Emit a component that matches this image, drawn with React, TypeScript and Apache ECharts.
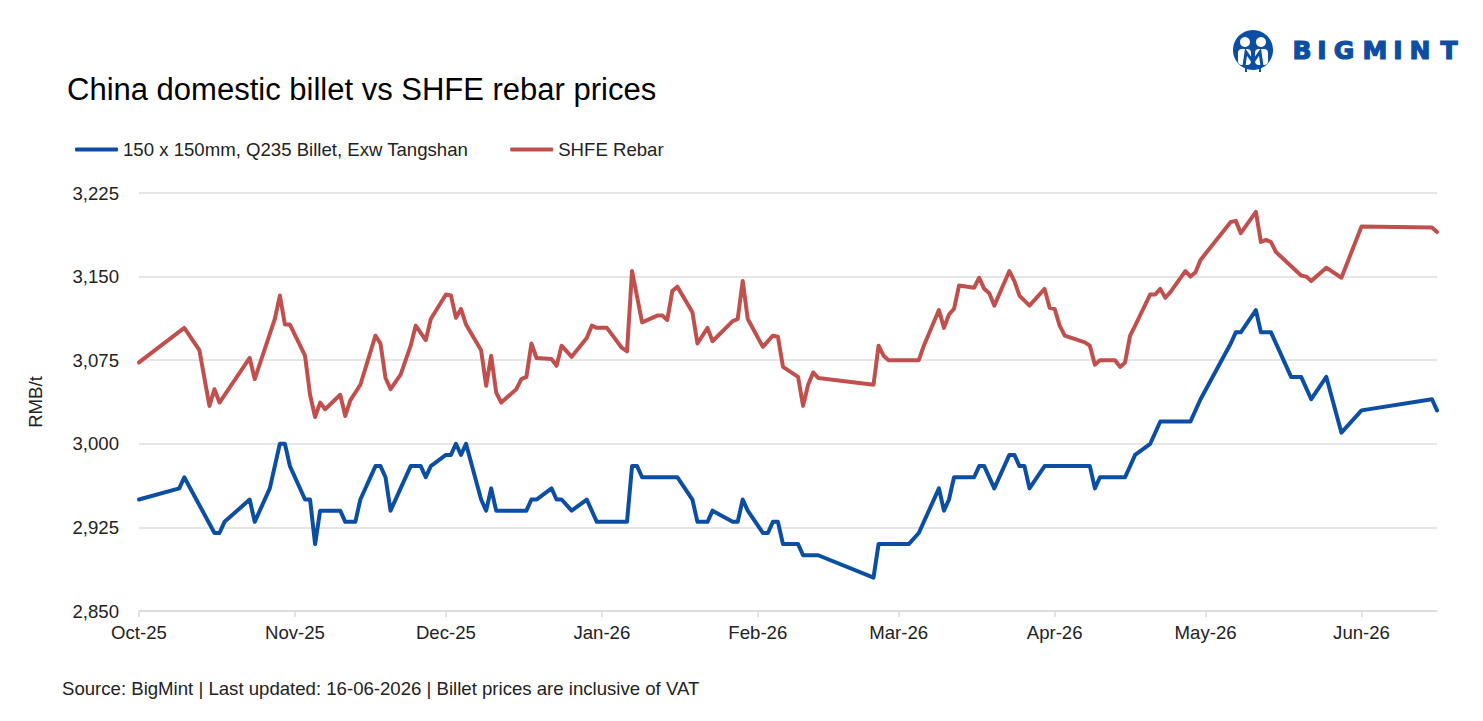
import { useEffect, useRef } from "react";
import * as echarts from "echarts";

const MONTHS = ["Jan", "Feb", "Mar", "Apr", "May", "Jun", "Jul", "Aug", "Sep", "Oct", "Nov", "Dec"];

const rebarDates = [
  "2025-10-01", "2025-10-10", "2025-10-13", "2025-10-15", "2025-10-16", "2025-10-17", "2025-10-23", "2025-10-24",
  "2025-10-28", "2025-10-29", "2025-10-30", "2025-10-31", "2025-11-03", "2025-11-04", "2025-11-05", "2025-11-06",
  "2025-11-07", "2025-11-10", "2025-11-11", "2025-11-12", "2025-11-14", "2025-11-17", "2025-11-18", "2025-11-19",
  "2025-11-20", "2025-11-22", "2025-11-24", "2025-11-25", "2025-11-27", "2025-11-28", "2025-12-01", "2025-12-02",
  "2025-12-03", "2025-12-04", "2025-12-05", "2025-12-08", "2025-12-09", "2025-12-10", "2025-12-11", "2025-12-12",
  "2025-12-15", "2025-12-16", "2025-12-17", "2025-12-18", "2025-12-19", "2025-12-22", "2025-12-23", "2025-12-24",
  "2025-12-26", "2025-12-29", "2025-12-30", "2025-12-31", "2026-01-02", "2026-01-05", "2026-01-06", "2026-01-07",
  "2026-01-09", "2026-01-12", "2026-01-13", "2026-01-14", "2026-01-15", "2026-01-16", "2026-01-19", "2026-01-20",
  "2026-01-22", "2026-01-23", "2026-01-27", "2026-01-28", "2026-01-29", "2026-01-30", "2026-02-02", "2026-02-04",
  "2026-02-05", "2026-02-06", "2026-02-09", "2026-02-10", "2026-02-11", "2026-02-12", "2026-02-13", "2026-02-24",
  "2026-02-25", "2026-02-26", "2026-02-27", "2026-03-05", "2026-03-06", "2026-03-09", "2026-03-10", "2026-03-11",
  "2026-03-12", "2026-03-13", "2026-03-16", "2026-03-17", "2026-03-18", "2026-03-19", "2026-03-20", "2026-03-23",
  "2026-03-24", "2026-03-25", "2026-03-27", "2026-03-30", "2026-03-31", "2026-04-01", "2026-04-02", "2026-04-03",
  "2026-04-07", "2026-04-08", "2026-04-09", "2026-04-10", "2026-04-13", "2026-04-14", "2026-04-15", "2026-04-16",
  "2026-04-17", "2026-04-20", "2026-04-21", "2026-04-22", "2026-04-23", "2026-04-24", "2026-04-27", "2026-04-28",
  "2026-04-29", "2026-04-30", "2026-05-06", "2026-05-07", "2026-05-08", "2026-05-11", "2026-05-12", "2026-05-13",
  "2026-05-14", "2026-05-15", "2026-05-20", "2026-05-21", "2026-05-22", "2026-05-25", "2026-05-28", "2026-06-01",
  "2026-06-15", "2026-06-16",
];

const rebarPrices = [
  3073, 3104, 3084, 3034, 3049, 3037, 3077, 3058,
  3112, 3133, 3107, 3107, 3079, 3044, 3024, 3037,
  3031, 3044, 3025, 3039, 3053, 3097, 3090, 3059,
  3049, 3062, 3088, 3106, 3093, 3112, 3134, 3133,
  3113, 3121, 3107, 3084, 3052, 3079, 3046, 3037,
  3049, 3058, 3060, 3090, 3077, 3076, 3070, 3088,
  3078, 3095, 3106, 3104, 3104, 3086, 3083, 3155,
  3109, 3115, 3115, 3111, 3137, 3141, 3118, 3090,
  3104, 3092, 3110, 3112, 3146, 3112, 3087, 3097,
  3096, 3069, 3060, 3034, 3053, 3064, 3059, 3053,
  3088, 3079, 3075, 3075, 3088, 3120, 3104, 3116,
  3121, 3142, 3140, 3149, 3139, 3135, 3124, 3155,
  3146, 3133, 3124, 3139, 3122, 3121, 3106, 3097,
  3091, 3088, 3071, 3075, 3075, 3069, 3073, 3097,
  3106, 3134, 3134, 3139, 3131, 3136, 3155, 3150,
  3154, 3165, 3199, 3200, 3189, 3208, 3181, 3183,
  3181, 3172, 3151, 3150, 3146, 3158, 3149, 3195,
  3194, 3190,
];

const billetDates = [
  "2025-10-01", "2025-10-09", "2025-10-10", "2025-10-16", "2025-10-17", "2025-10-18", "2025-10-23", "2025-10-24",
  "2025-10-27", "2025-10-29", "2025-10-30", "2025-10-31", "2025-11-03", "2025-11-04", "2025-11-05", "2025-11-06",
  "2025-11-10", "2025-11-11", "2025-11-13", "2025-11-14", "2025-11-17", "2025-11-18", "2025-11-19", "2025-11-20",
  "2025-11-24", "2025-11-26", "2025-11-27", "2025-11-28", "2025-12-01", "2025-12-02", "2025-12-03", "2025-12-04",
  "2025-12-05", "2025-12-08", "2025-12-09", "2025-12-10", "2025-12-11", "2025-12-17", "2025-12-18", "2025-12-19",
  "2025-12-22", "2025-12-23", "2025-12-24", "2025-12-26", "2025-12-29", "2025-12-31", "2026-01-06", "2026-01-07",
  "2026-01-08", "2026-01-09", "2026-01-16", "2026-01-19", "2026-01-20", "2026-01-22", "2026-01-23", "2026-01-27",
  "2026-01-28", "2026-01-29", "2026-01-30", "2026-02-02", "2026-02-03", "2026-02-04", "2026-02-05", "2026-02-06",
  "2026-02-09", "2026-02-10", "2026-02-13", "2026-02-24", "2026-02-25", "2026-03-03", "2026-03-05", "2026-03-09",
  "2026-03-10", "2026-03-11", "2026-03-12", "2026-03-16", "2026-03-17", "2026-03-18", "2026-03-20", "2026-03-23",
  "2026-03-24", "2026-03-25", "2026-03-26", "2026-03-27", "2026-03-30", "2026-04-08", "2026-04-09", "2026-04-10",
  "2026-04-15", "2026-04-17", "2026-04-20", "2026-04-22", "2026-04-28", "2026-04-30", "2026-05-06", "2026-05-07",
  "2026-05-08", "2026-05-11", "2026-05-12", "2026-05-14", "2026-05-18", "2026-05-20", "2026-05-22", "2026-05-25",
  "2026-05-28", "2026-06-01", "2026-06-15", "2026-06-16",
];

const billetPrices = [
  2950, 2960, 2970, 2920, 2920, 2930, 2950, 2930,
  2960, 3000, 3000, 2980, 2950, 2950, 2910, 2940,
  2940, 2930, 2930, 2950, 2980, 2980, 2970, 2940,
  2980, 2980, 2970, 2980, 2990, 2990, 3000, 2990,
  3000, 2950, 2940, 2960, 2940, 2940, 2950, 2950,
  2960, 2950, 2950, 2940, 2950, 2930, 2930, 2980,
  2980, 2970, 2970, 2950, 2930, 2930, 2940, 2930,
  2930, 2950, 2940, 2920, 2920, 2930, 2930, 2910,
  2910, 2900, 2900, 2880, 2910, 2910, 2920, 2960,
  2940, 2950, 2970, 2970, 2980, 2980, 2960, 2990,
  2990, 2980, 2980, 2960, 2980, 2980, 2960, 2970,
  2970, 2990, 3000, 3020, 3020, 3040, 3090, 3100,
  3100, 3120, 3100, 3100, 3060, 3060, 3040, 3060,
  3010, 3030, 3040, 3030,
];

const seriesNames = ["150 x 150mm, Q235 Billet, Exw Tangshan", "SHFE Rebar"];
const seriesColors = ["#0B4EA2", "#C0504D"];
const yMin = 2850;
const yMax = 3225;
const yStep = 75;
const xStart = "2025-10-01";
const xEnd = "2026-06-16";

const titleText = "China domestic billet vs SHFE rebar prices";
const yAxisTitle = "RMB/t";
const footnote = "Source: BigMint | Last updated: 16-06-2026 | Billet prices are inclusive of VAT";
const brandLetters = ["B", "I", "G", "M", "I", "N", "T"];
const brandLetterX = [1302, 1322, 1344, 1375, 1398, 1420, 1449];

const FONT = "'Liberation Sans', Arial, sans-serif";
const BRAND_BLUE = "#0B4EA2";
const TEXT_SIZE = 18.6;

function monthLabel(value: number): string {
  const d = new Date(value);
  return `${MONTHS[d.getMonth()]}-${String(d.getFullYear()).slice(2)}`;
}

export default function App() {
  const ref = useRef<HTMLDivElement>(null);

  useEffect(() => {
    if (!ref.current) return;
    const chart = echarts.init(ref.current, undefined, { renderer: "svg" });

    const billetData = billetDates.map((d, i) => [d, billetPrices[i]]);
    const rebarData = rebarDates.map((d, i) => [d, rebarPrices[i]]);

    // Wordmark: heavy, widely spaced capitals next to the round emblem
    const brandText = brandLetters.map((ch, i) => ({
      type: "text",
      x: brandLetterX[i],
      y: 50,
      style: {
        text: ch,
        fill: BRAND_BLUE,
        stroke: BRAND_BLUE,
        lineWidth: 1.2,
        font: "bold 25px 'DejaVu Sans', sans-serif",
        textAlign: "center",
        textVerticalAlign: "middle",
      },
    }));

    chart.setOption({
      animation: false,
      backgroundColor: "#ffffff",
      textStyle: { fontFamily: FONT },
      title: {
        text: titleText,
        left: 67,
        top: 74,
        padding: 0,
        textStyle: { fontFamily: FONT, fontSize: 31, fontWeight: "normal", color: "#000000" },
      },
      legend: {
        left: 75,
        top: 140,
        padding: 0,
        itemWidth: 43,
        itemHeight: 4,
        itemGap: 42,
        icon: "roundRect",
        data: seriesNames,
        textStyle: { fontFamily: FONT, fontSize: TEXT_SIZE, color: "#222222" },
      },
      grid: { left: 139, right: 46, top: 193, bottom: 110 },
      xAxis: {
        type: "time",
        min: xStart,
        max: xEnd,
        splitNumber: 9,
        minInterval: 28 * 24 * 3600 * 1000,
        axisLine: { show: true, lineStyle: { color: "#d9d9d9", width: 1.5 } },
        axisTick: { show: true, length: 6, lineStyle: { color: "#d9d9d9", width: 1.5 } },
        splitLine: { show: false },
        axisLabel: {
          formatter: (v: number) => monthLabel(v),
          fontFamily: FONT,
          fontSize: TEXT_SIZE,
          color: "#222222",
          margin: 12,
          fontWeight: "normal",
        },
      },
      yAxis: {
        type: "value",
        min: yMin,
        max: yMax,
        interval: yStep,
        name: yAxisTitle,
        nameLocation: "middle",
        nameGap: 94,
        nameTextStyle: { fontFamily: FONT, fontSize: TEXT_SIZE, color: "#222222" },
        axisLine: { show: false },
        axisTick: { show: false },
        splitLine: { lineStyle: { color: "#dedede", width: 1.5 } },
        axisLabel: {
          formatter: (v: number) => v.toLocaleString("en-US"),
          fontFamily: FONT,
          fontSize: TEXT_SIZE,
          color: "#222222",
          margin: 20,
        },
      },
      series: [
        {
          name: seriesNames[0],
          type: "line",
          data: billetData,
          showSymbol: false,
          color: seriesColors[0],
          lineStyle: { width: 4, color: seriesColors[0], cap: "round", join: "round" },
        },
        {
          name: seriesNames[1],
          type: "line",
          data: rebarData,
          showSymbol: false,
          color: seriesColors[1],
          lineStyle: { width: 4, color: seriesColors[1], cap: "round", join: "round" },
        },
      ],
      graphic: [
        {
          type: "text",
          left: 62,
          top: 679,
          style: { text: footnote, fill: "#222222", font: `${TEXT_SIZE}px ${FONT}` },
        },
        {
          type: "group",
          children: [
            { type: "circle", shape: { cx: 1253, cy: 50, r: 20 }, style: { fill: BRAND_BLUE } },
            { type: "circle", shape: { cx: 1245, cy: 42, r: 5 }, style: { fill: "#ffffff" } },
            { type: "circle", shape: { cx: 1261, cy: 42, r: 5 }, style: { fill: "#ffffff" } },
            { type: "rect", shape: { x: 1238, y: 49, width: 13, height: 16, r: 4 }, style: { fill: "#ffffff" } },
            { type: "rect", shape: { x: 1255, y: 49, width: 13, height: 16, r: 4 }, style: { fill: "#ffffff" } },
            {
              type: "polyline",
              shape: { points: [[1244, 66], [1246, 52], [1253, 62], [1260, 52], [1262, 66]] },
              style: { stroke: BRAND_BLUE, lineWidth: 3, fill: "none" },
            },
            { type: "line", shape: { x1: 1246, y1: 66, x2: 1246, y2: 72 }, style: { stroke: BRAND_BLUE, lineWidth: 2 } },
            { type: "line", shape: { x1: 1260, y1: 66, x2: 1260, y2: 72 }, style: { stroke: BRAND_BLUE, lineWidth: 2 } },
          ],
        },
        ...brandText,
      ],
    });

    return () => chart.dispose();
  }, []);

  return (
    <div
      ref={ref}
      style={{ position: "absolute", left: 0, top: 0, width: 1483, height: 721, background: "#ffffff" }}
    />
  );
}
